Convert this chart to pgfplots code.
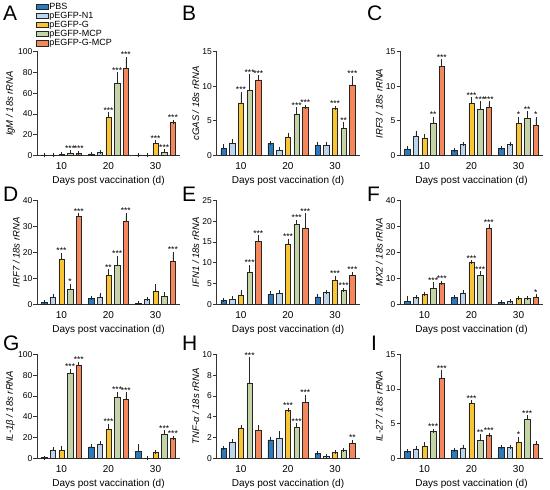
\documentclass[border=0pt]{standalone}
\usepackage{fontspec}
\setmainfont{Liberation Sans}
\setsansfont{Liberation Sans}
\usepackage{pgfplots}
\usepackage{pgfplotstable}
\pgfplotsset{compat=1.18}

\definecolor{cPBS}{HTML}{2B79BE}
\definecolor{cN1}{HTML}{BDD5EC}
\definecolor{cG}{HTML}{F9C532}
\definecolor{cMCP}{HTML}{C5D4A6}
\definecolor{cGM}{HTML}{F5875C}
\definecolor{axc}{HTML}{333333}

\def\off{0.184}

% g y1 e1 y2 e2 y3 e3 y4 e4 y5 e5 s1 s2 s3 s4 s5
\pgfplotstableread{
g y1 e1 y2 e2 y3 e3 y4 e4 y5 e5 s1 s2 s3 s4 s5
1 0.6 0.2 0.6 0.2 1.2 0.4 2.4 0.8 2.0 0.5 {} {} {} *** ***
2 1.5 0.3 2.8 0.4 37.0 2.5 69.5 8.5 83.5 9.5 {} {} *** *** ***
3 0.6 0.2 0.3 0.1 11.3 1.3 3.3 0.7 31.6 1.0 {} {} *** *** ***
}\tA
\pgfplotstableread{
g y1 e1 y2 e2 y3 e3 y4 e4 y5 e5 s1 s2 s3 s4 s5
1 1.0 0.3 1.8 0.3 7.6 1.3 9.4 2.0 10.9 0.4 {} {} *** *** ***
2 1.7 0.1 0.75 0.25 2.7 0.3 6.0 0.7 6.9 0.15 {} {} {} *** ***
3 1.5 0.2 1.5 0.1 6.8 0.08 3.9 0.6 10.2 1.0 {} {} *** ** ***
}\tB
\pgfplotstableread{
g y1 e1 y2 e2 y3 e3 y4 e4 y5 e5 s1 s2 s3 s4 s5
1 0.97 0.1 2.8 0.5 2.55 0.25 4.7 0.6 12.8 0.8 {} {} {} ** ***
2 0.75 0.08 1.6 0.1 7.5 0.6 6.6 0.9 6.9 0.6 {} {} *** *** ***
3 1.0 0.1 1.6 0.1 4.7 0.6 5.4 0.7 4.4 0.9 {} {} * ** *
}\tC
\pgfplotstableread{
g y1 e1 y2 e2 y3 e3 y4 e4 y5 e5 s1 s2 s3 s4 s5
1 0.8 0.15 2.6 0.4 17.5 1.5 5.7 1.5 33.8 0.5 {} {} *** * ***
2 2.3 0.2 2.8 0.9 11.0 1.7 14.9 3.0 32.0 2.4 {} {} ** *** ***
3 0.4 0.1 1.9 0.1 5.2 1.8 3.2 0.7 16.5 3.0 {} {} {} {} ***
}\tD
\pgfplotstableread{
g y1 e1 y2 e2 y3 e3 y4 e4 y5 e5 s1 s2 s3 s4 s5
1 0.95 0.15 1.25 0.2 2.2 0.7 7.8 1.2 15.2 0.9 {} {} {} *** ***
2 2.4 0.2 2.6 0.3 14.5 0.8 19.3 0.5 18.3 3.1 {} {} *** *** ***
3 1.8 0.1 2.85 0.05 5.7 0.7 3.3 0.2 6.9 0.5 {} {} *** *** ***
}\tE
\pgfplotstableread{
g y1 e1 y2 e2 y3 e3 y4 e4 y5 e5 s1 s2 s3 s4 s5
1 1.0 1.5 2.6 0.2 3.8 0.3 6.1 1.7 8.0 0.3 {} {} {} *** ***
2 2.7 0.2 4.2 0.5 16.0 0.2 11.0 0.9 29.1 1.0 {} {} *** *** ***
3 0.8 0.1 1.0 0.1 2.3 0.1 2.3 0.2 2.8 0.2 {} {} {} {} *
}\tF
\pgfplotstableread{
g y1 e1 y2 e2 y3 e3 y4 e4 y5 e5 s1 s2 s3 s4 s5
1 0.6 0.1 7.7 1.3 7.7 1.9 81.4 2.6 89.7 1.3 {} {} {} *** ***
2 10.9 0.6 13.5 0.9 27.6 3.8 59.0 3.2 57.0 4.5 {} {} *** *** ***
3 7.0 4.9 0.3 0.1 5.8 0.3 23.4 1.6 19.5 0.4 {} {} {} *** ***
}\tG
\pgfplotstableread{
g y1 e1 y2 e2 y3 e3 y4 e4 y5 e5 s1 s2 s3 s4 s5
1 0.94 0.06 1.55 0.13 2.87 0.13 7.26 2.24 2.65 0.35 {} {} {} *** {}
2 1.77 0.1 1.94 0.46 4.58 0.07 3.03 0.13 5.4 0.5 {} {} *** *** ***
3 0.48 0.07 0.2 0.02 0.58 0.03 0.77 0.03 1.42 0.18 {} {} {} {} **
}\tH
\pgfplotstableread{
g y1 e1 y2 e2 y3 e3 y4 e4 y5 e5 s1 s2 s3 s4 s5
1 0.96 0.05 1.35 0.09 1.73 0.34 3.85 0.09 11.5 0.9 {} {} {} *** ***
2 1.2 0.05 1.49 0.14 7.9 0.2 2.6 0.6 3.3 0.07 {} {} *** ** ***
3 1.54 0.09 1.6 0.05 2.26 0.54 5.67 0.23 2.0 0.2 {} {} * *** {}
}\tI

\pgfplotsset{
  barbase/.style={ybar, bar width=5.4pt, bar shift=0pt, draw=black!85, line width=0.5pt,
    /pgfplots/legend image code/.code={\draw[##1, line width=0.7pt] (0pt,-2.6pt) rectangle (12pt,2.6pt);},
    /pgfplots/error bars/y dir=plus, /pgfplots/error bars/y explicit,
    /pgfplots/error bars/error bar style={line width=0.6pt, black!85},
    /pgfplots/error bars/error mark options={line width=0.6pt, mark size=2pt, black!85}},
  starplot/.style={forget plot, only marks, mark=*, mark size=0pt,
    mark options={draw=none,fill=none}, point meta=explicit symbolic,
    nodes near coords,
    nodes near coords style={font=\fontsize{8.5}{8.5}\selectfont, anchor=south, inner sep=0.8pt, text=black}},
  panel/.style={scale only axis, width=143pt, height=104pt, anchor=south west,
    xmin=0.48, xmax=3.52, ymin=0,
    axis x line*=bottom, axis y line*=left, tick align=outside,
    axis line style={line width=0.7pt, axc},
    major tick length=3.5pt,
    y tick style={line width=0.7pt, axc},
    major x tick style={draw=none},
    xtick={1,2,3}, xticklabels={10,20,30},
    /pgf/number format/assume math mode=true,
    x tick label style={font=\fontsize{10}{10}\selectfont},
    y tick label style={font=\fontsize{8.5}{8.5}\selectfont, inner sep=1pt},
    xlabel={Days post vaccination (d)},
    xlabel style={font=\fontsize{10}{10}\selectfont},
    ylabel style={font=\itshape\fontsize{9.5}{9.5}\selectfont, inner sep=0pt},
    ylabel shift=2pt,
    clip=false},
}

\newcommand{\bars}[1]{%
  \addplot[barbase, fill=cPBS] table[x expr=\thisrow{g}-2*\off, y=y1, y error=e1]{#1};
  \addplot[barbase, fill=cN1] table[x expr=\thisrow{g}-\off, y=y2, y error=e2]{#1};
  \addplot[barbase, fill=cG] table[x=g, y=y3, y error=e3]{#1};
  \addplot[barbase, fill=cMCP] table[x expr=\thisrow{g}+\off, y=y4, y error=e4]{#1};
  \addplot[barbase, fill=cGM] table[x expr=\thisrow{g}+2*\off, y=y5, y error=e5]{#1};
  \addplot[starplot] table[x expr=\thisrow{g}-2*\off, y expr=\thisrow{y1}+\thisrow{e1}, meta=s1]{#1};
  \addplot[starplot] table[x expr=\thisrow{g}-\off, y expr=\thisrow{y2}+\thisrow{e2}, meta=s2]{#1};
  \addplot[starplot] table[x=g, y expr=\thisrow{y3}+\thisrow{e3}, meta=s3]{#1};
  \addplot[starplot] table[x expr=\thisrow{g}+\off, y expr=\thisrow{y4}+\thisrow{e4}, meta=s4]{#1};
  \addplot[starplot] table[x expr=\thisrow{g}+2*\off, y expr=\thisrow{y5}+\thisrow{e5}, meta=s5]{#1};
}

\begin{document}
\begin{tikzpicture}[x=1pt,y=1pt]
\useasboundingbox (0,0) rectangle (550,490);

% Row 1
\begin{axis}[panel, at={(37pt,334.5pt)}, ymax=100, ytick={0,20,...,100},
  ylabel={IgM / 18s rRNA},
  legend entries={PBS,pEGFP-N1,pEGFP-G,pEGFP-MCP,pEGFP-G-MCP},
  legend cell align=left,
  legend style={at={(-0.01,1.48)}, anchor=north west, draw=none, fill=none,
    font=\fontsize{9}{8}\selectfont, row sep=-0.6pt, inner sep=0pt,
    nodes={inner sep=1pt}}]
\bars{\tA}
\end{axis}
\begin{axis}[panel, at={(216.5pt,334.5pt)}, ymax=15, ytick={0,5,10,15},
  ylabel={cGAS / 18s rRNA}]
\bars{\tB}
\end{axis}
\begin{axis}[panel, at={(400pt,334.5pt)}, ymax=15, ytick={0,5,10,15},
  ylabel={IRF3 / 18s rRNA}]
\bars{\tC}
\end{axis}

% Row 2
\begin{axis}[panel, at={(37pt,185.7pt)}, ymax=40, ytick={0,10,...,40},
  ylabel={IRF7 / 18s rRNA}]
\bars{\tD}
\end{axis}
\begin{axis}[panel, at={(216.5pt,185.7pt)}, ymax=25, ytick={0,5,...,25},
  ylabel={IFN1 / 18s rRNA}]
\bars{\tE}
\end{axis}
\begin{axis}[panel, at={(400pt,185.7pt)}, ymax=40, ytick={0,10,...,40},
  ylabel={MX2 / 18s rRNA}]
\bars{\tF}
\end{axis}

% Row 3
\begin{axis}[panel, at={(37pt,31.7pt)}, ymax=100, ytick={0,20,...,100},
  ylabel={IL-1β / 18s rRNA}]
\bars{\tG}
\end{axis}
\begin{axis}[panel, at={(216.5pt,31.7pt)}, ymax=10, ytick={0,2,...,10},
  ylabel={TNF-α / 18s rRNA}]
\bars{\tH}
\end{axis}
\begin{axis}[panel, at={(400pt,31.7pt)}, ymax=15, ytick={0,5,10,15},
  ylabel={IL-27 / 18s rRNA}]
\bars{\tI}
\end{axis}

% Panel letters
\begin{scope}[every node/.style={font=\fontsize{21}{21}\selectfont, anchor=base west, inner sep=0pt}]
\node at (3,469) {A};
\node at (182,469) {B};
\node at (367,469) {C};
\node at (3,288) {D};
\node at (182,288) {E};
\node at (367,288) {F};
\node at (3,139) {G};
\node at (182,139) {H};
\node at (371,139) {I};
\end{scope}
\end{tikzpicture}
\end{document}
